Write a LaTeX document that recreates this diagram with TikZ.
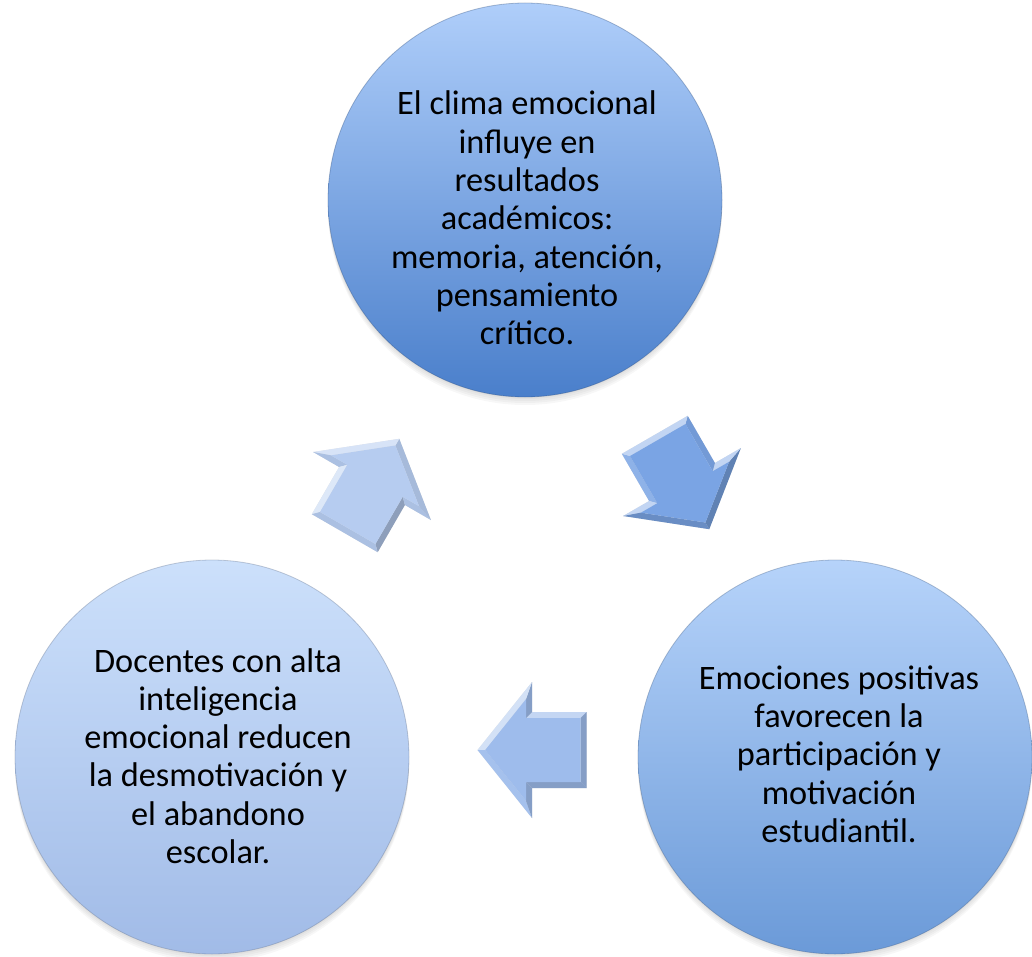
\documentclass[tikz,border=0pt]{standalone}
\usepackage{fontspec}
\setmainfont{Carlito}
\definecolor{topA}{HTML}{AFCEFA}
\definecolor{topB}{HTML}{83AAE6}
\definecolor{topC}{HTML}{4A7FCB}
\definecolor{rgtA}{HTML}{B6D3FA}
\definecolor{rgtB}{HTML}{98BAF0}
\definecolor{rgtC}{HTML}{6B9AD8}
\definecolor{lftA}{HTML}{CCE0FB}
\definecolor{lftB}{HTML}{B9CFF4}
\definecolor{lftC}{HTML}{A1BBE7}
\definecolor{arrA}{HTML}{B6CCF0}
\definecolor{arrB}{HTML}{7AA4E4}
\definecolor{arrC}{HTML}{9EBCEC}
\newcommand{\bevelarrow}[4]{%
  \begin{scope}[shift={#2}, rotate=#3]
    \coordinate (#1-o1) at (-54.5,-38);
    \coordinate (#1-o2) at (0,-38);
    \coordinate (#1-o3) at (0,-68);
    \coordinate (#1-o4) at (54.5,0);
    \coordinate (#1-o5) at (0,68);
    \coordinate (#1-o6) at (0,38);
    \coordinate (#1-o7) at (-54.5,38);
    \coordinate (#1-i1) at (-48.5,-32);
    \coordinate (#1-i2) at (6,-32);
    \coordinate (#1-i3) at (6,-50.9);
    \coordinate (#1-i4) at (46.8,0);
    \coordinate (#1-i5) at (6,50.9);
    \coordinate (#1-i6) at (6,32);
    \coordinate (#1-i7) at (-48.5,32);
  \end{scope}
  \foreach \k in {2,4}{
    \fill[black, opacity=0.06, shift={(1,-\k)}] (#1-o1) -- (#1-o2) -- (#1-o3) -- (#1-o4) -- (#1-o5) -- (#1-o6) -- (#1-o7) -- cycle;
  }
  \foreach \i/\j/\n in {1/2/-90, 2/3/180, 3/4/-38.7, 4/5/38.7, 5/6/180, 6/7/90, 7/1/180}{
    \pgfmathsetmacro\bb{cos(\n+(#3)-135)}
    \pgfmathtruncatemacro\pw{\bb>0 ? 100-55*\bb : 100}
    \pgfmathtruncatemacro\pk{\bb<0 ? 100+22*\bb : 100}
    \fill[fill={#4!\pw!white!\pk!black}] (#1-o\i) -- (#1-o\j) -- (#1-i\j) -- (#1-i\i) -- cycle;
  }
  \fill[#4] (#1-i1) -- (#1-i2) -- (#1-i3) -- (#1-i4) -- (#1-i5) -- (#1-i6) -- (#1-i7) -- cycle;
}
\tikzset{
  bubble/.style={circle, minimum size=394pt, inner sep=0pt, line width=0.8pt, draw opacity=0.35},
  btext/.style={align=center, font=\fontsize{34.3}{38.3}\selectfont, text=black, inner sep=0pt},
}
\begin{document}
\begin{tikzpicture}[x=1pt,y=1pt]
\useasboundingbox (0,0) rectangle (1032,-957);
% soft shadows
\foreach \p in {(525,-200),(212,-757),(835,-757)}{
  \foreach \k in {2,4,6,8}{
    \fill[black, opacity=0.03, shift={(0,-\k)}] \p circle (197);
  }
}
% circles
\node[bubble, top color=topA, middle color=topB, bottom color=topC, draw=topC!60!black] (top) at (525,-200) {};
\node[bubble, top color=lftA, middle color=lftB, bottom color=lftC, draw=lftC!60!black] (left) at (212,-757) {};
\node[bubble, top color=rgtA, middle color=rgtB, bottom color=rgtC, draw=rgtC!60!black] (right) at (835,-757) {};
% texts
\node[btext] (toptext) at (527,-218) {El clima emocional\\influye en\\resultados\\académicos:\\memoria, atención,\\pensamiento\\crítico.};
\node[btext] (lefttext) at (218,-756) {Docentes con alta\\inteligencia\\emocional reducen\\la desmotivación y\\el abandono\\escolar.};
\node[btext] (righttext) at (839,-754) {Emociones positivas\\favorecen la\\participación y\\motivación\\estudiantil.};
% arrows
\bevelarrow{ar1}{(372,-486)}{60}{arrA}
\bevelarrow{ar2}{(682,-482)}{-60}{arrB}
\bevelarrow{ar3}{(532,-750)}{180}{arrC}
\end{tikzpicture}
\end{document}
